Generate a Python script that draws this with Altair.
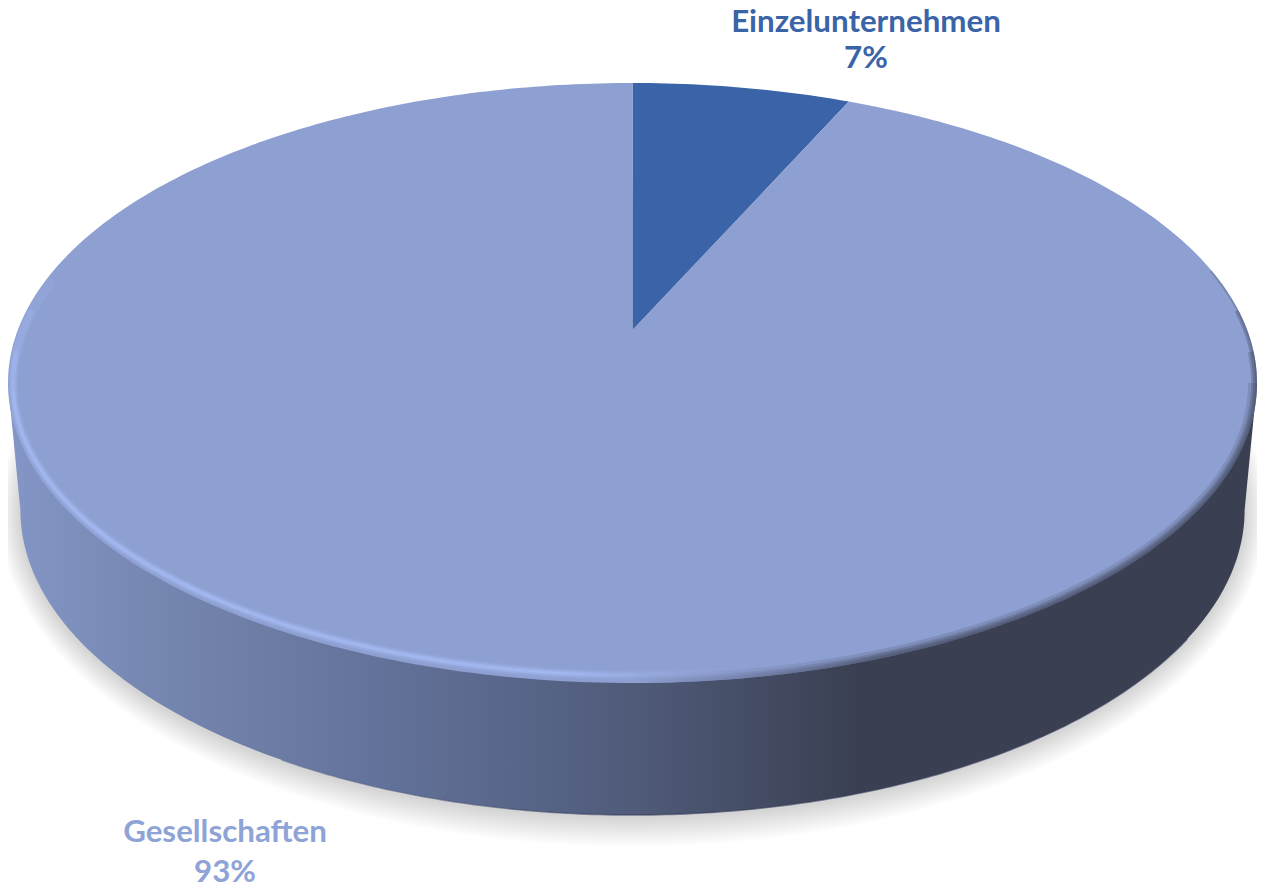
import math
import altair as alt
import pandas as pd

# --- chart values ---
categories = ["Einzelunternehmen", "Gesellschaften"]
shares = [6.7, 93.3]
share_labels = ["7%", "93%"]
slice_colors = ["#3a63a8", "#8e9fd1"]
label_colors = ["#3a63a8", "#8ea3d6"]

# --- drawing geometry (page pixels used as the scale units) ---
CX, CY, A, B = 635.0, 383.0, 630.5, 300.0     # top face
BCY, BA, BB = 510.0, 618.0, 305.0             # bottom rim
APEX_SHIFT = (383.0 - 330.0) / 300.0          # perspective shift of pie centre
X_MIN, X_MAX = 4.5, 1265.5

x_enc = alt.X("x:Q", axis=None, scale=alt.Scale(domain=[X_MIN, X_MAX], nice=False, zero=False))
y_enc = alt.Y("y:Q", axis=None, scale=alt.Scale(domain=[888, 8], nice=False, zero=False))


def ell(t_deg, a=A, b=B, cy=CY):
    t = math.radians(t_deg)
    return (CX + a * math.sin(t), cy - b * math.cos(t))


def frange(start, stop, n):
    return [start + (stop - start) * i / n for i in range(n + 1)]


def poly(points, **mark):
    df = pd.DataFrame(points, columns=["x", "y"])
    df["i"] = range(len(df))
    return alt.Chart(df).mark_line(**mark).encode(x=x_enc, y=y_enc, order=alt.Order("i:Q"))


def persp(theta_deg):
    th = math.radians(theta_deg)
    u, v = math.sin(th), math.cos(th)
    d = 1 + APEX_SHIFT * v
    return (CX + A * u * math.sqrt(1 - APEX_SHIFT ** 2) / d, CY - B * (v + APEX_SHIFT) / d)


def grad(stops):
    return alt.Gradient(
        gradient="linear", x1=0, x2=1, y1=0, y2=0,
        stops=[alt.GradientStop(color=c, offset=o) for o, c in stops],
    )


def page_x(px):
    # scale unit that lands on page pixel px (plot spans page x 8..1257)
    return X_MIN + (px - 8) / 1249 * (X_MAX - X_MIN)


layers = []

# soft shadow below the disc
for k in range(14):
    d = 2 + k * 2.1
    pts = [ell(t, BA + d * 0.75, BB + d, BCY + 2) for t in frange(0, 360, 180)]
    layers.append(poly(pts, fill="#000000", fillOpacity=0.012, strokeWidth=0))

# side wall
wall = [(CX - A, CY)] + [ell(t, BA, BB, BCY) for t in frange(270, 90, 240)] + [(CX + A, CY)]
layers.append(poly(wall, strokeWidth=0, fill=grad([
    (0.0, "#8496c6"), (0.12, "#7586b0"), (0.3, "#63729a"), (0.5, "#505b7a"),
    (0.68, "#3a4052"), (1.0, "#3a4052"),
])))
layers.append(poly([ell(t, BA, BB, BCY) for t in frange(215, 115, 160)],
                   stroke=grad([(0.0, "#63729a"), (0.4, "#333c58"), (1.0, "#333c58")]),
                   strokeWidth=1.6, strokeOpacity=0.6))

# pie slices from the shares
start = 0.0
for cat, share, col in zip(categories, shares, slice_colors):
    end = start + share / sum(shares) * 360
    n = max(8, int(share * 4))
    apex = (CX, CY - B * APEX_SHIFT)
    pts = [apex] + [persp(t) for t in frange(start, end, n)] + [apex]
    layers.append(poly(pts, fill=col, strokeWidth=0))
    start = end

# light rim on the left / front edge
hl = grad([(0.0, "#a6bdf6"), (0.75, "#a6bdf6"), (1.0, "#8e9fd1")])
for w, st, op in [(10, 290, 0.15), (7, 284, 0.25), (4.5, 276, 0.4), (2.2, 268, 0.45)]:
    pts = [ell(t, A - 5, B - 8) for t in frange(st, 170, 200)]
    layers.append(poly(pts, stroke=hl, strokeWidth=w, strokeOpacity=op, strokeCap="round"))

# dark soft edge on the right / front
dk = grad([(0.0, "#8e9fd1"), (0.4, "#3a4052"), (1.0, "#3a4052")])
for w, end_t, op in [(9, 90, 0.18), (6, 84, 0.25), (4, 76, 0.3), (2, 68, 0.25)]:
    pts = [ell(t, A - w / 2, B - w / 2) for t in frange(180, end_t, 160)]
    layers.append(poly(pts, stroke=dk, strokeWidth=w, strokeOpacity=op))

# labels
label_pos = {"Einzelunternehmen": (866, 32, 68), "Gesellschaften": (225, 842, 882)}
rows = []
for cat, lab, col in zip(categories, share_labels, label_colors):
    lx, y1, y2 = label_pos[cat]
    rows.append({"x": page_x(lx), "y": y1, "t": cat, "c": col})
    rows.append({"x": page_x(lx), "y": y2, "t": lab, "c": col})
layers.append(
    alt.Chart(pd.DataFrame(rows))
    .mark_text(font="Lato", fontWeight="bold", fontSize=31.3, align="center", baseline="alphabetic")
    .encode(x=x_enc, y=y_enc, text="t:N", color=alt.Color("c:N", scale=None))
)

chart = (
    alt.layer(*layers)
    .properties(width=1249, height=880, padding=0, background="#ffffff",
                autosize=alt.AutoSizeParams(type="none"))
    .configure_view(stroke=None)
)
chart.save("out.html", embed_options={"renderer": "svg", "actions": False})
